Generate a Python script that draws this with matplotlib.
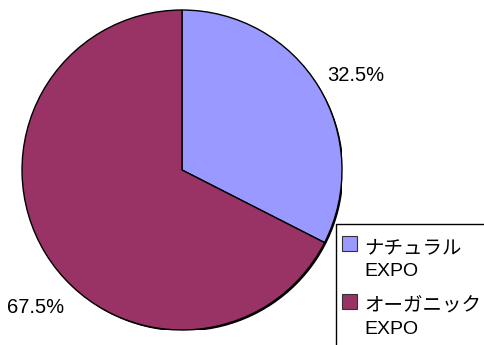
import matplotlib
matplotlib.use('Agg')
import matplotlib.pyplot as plt
from matplotlib.patches import Circle, Rectangle
from matplotlib.legend_handler import HandlerPatch

plt.rcParams['font.family'] = ['Liberation Sans', 'Noto Sans CJK JP']

# Visitor share by event
labels = ['ナチュラル\nEXPO', 'オーガニック\nEXPO']
shares = [32.5, 67.5]
colors = ['#9999FF', '#993366']

LEG_FS = 14
SWATCH_LIFT = 11.5  # points the swatch sits above the handle box

fig = plt.figure(figsize=(4.85, 3.45), dpi=100)
ax = fig.add_axes([0.0454, 0.0435, 0.6598, 0.9275])

wedges, _ = ax.pie(shares, colors=colors, startangle=90, counterclock=False,
                   radius=1, wedgeprops=dict(edgecolor='black', linewidth=1))

# thin drop shadow along the lower-right rim
ax.add_patch(Circle((0.009, -0.009), 1, facecolor='black', edgecolor='none', zorder=0))

ax.text(1.085, 0.59, f'{shares[0]:.1f}%', fontsize=14.5, ha='center', va='center')
ax.text(-0.915, -0.86, f'{shares[1]:.1f}%', fontsize=14.5, ha='center', va='center')

ax.set_xlim(-1, 1)
ax.set_ylim(-1, 1)
ax.set_aspect('equal')
ax.axis('off')


def top_square(legend, orig_handle, xdescent, ydescent, width, height, fontsize):
    # square swatch lined up with the first line of a two-line label
    return Rectangle((-xdescent, -ydescent + SWATCH_LIFT), width, width)


leg = fig.legend(wedges, labels, loc='upper left', bbox_to_anchor=(0.705, 0.303),
                 fontsize=LEG_FS, frameon=False,
                 handlelength=0.77, handleheight=0.77, handletextpad=0.36,
                 borderpad=0, labelspacing=0.95, borderaxespad=0,
                 handler_map={w: HandlerPatch(patch_func=top_square) for w in wedges})
for t in leg.get_texts():
    t.set_linespacing(1.42)
for h in leg.legend_handles:
    h.set_edgecolor('#333333')
    h.set_linewidth(0.8)

# legend frame running off the bottom-right corner
fig.patches.append(Rectangle((336 / 485, -0.1), 0.5, 0.1 + (345 - 224) / 345,
                             transform=fig.transFigure, fill=False,
                             edgecolor='black', linewidth=1))

fig.savefig('out.png', dpi=100)
